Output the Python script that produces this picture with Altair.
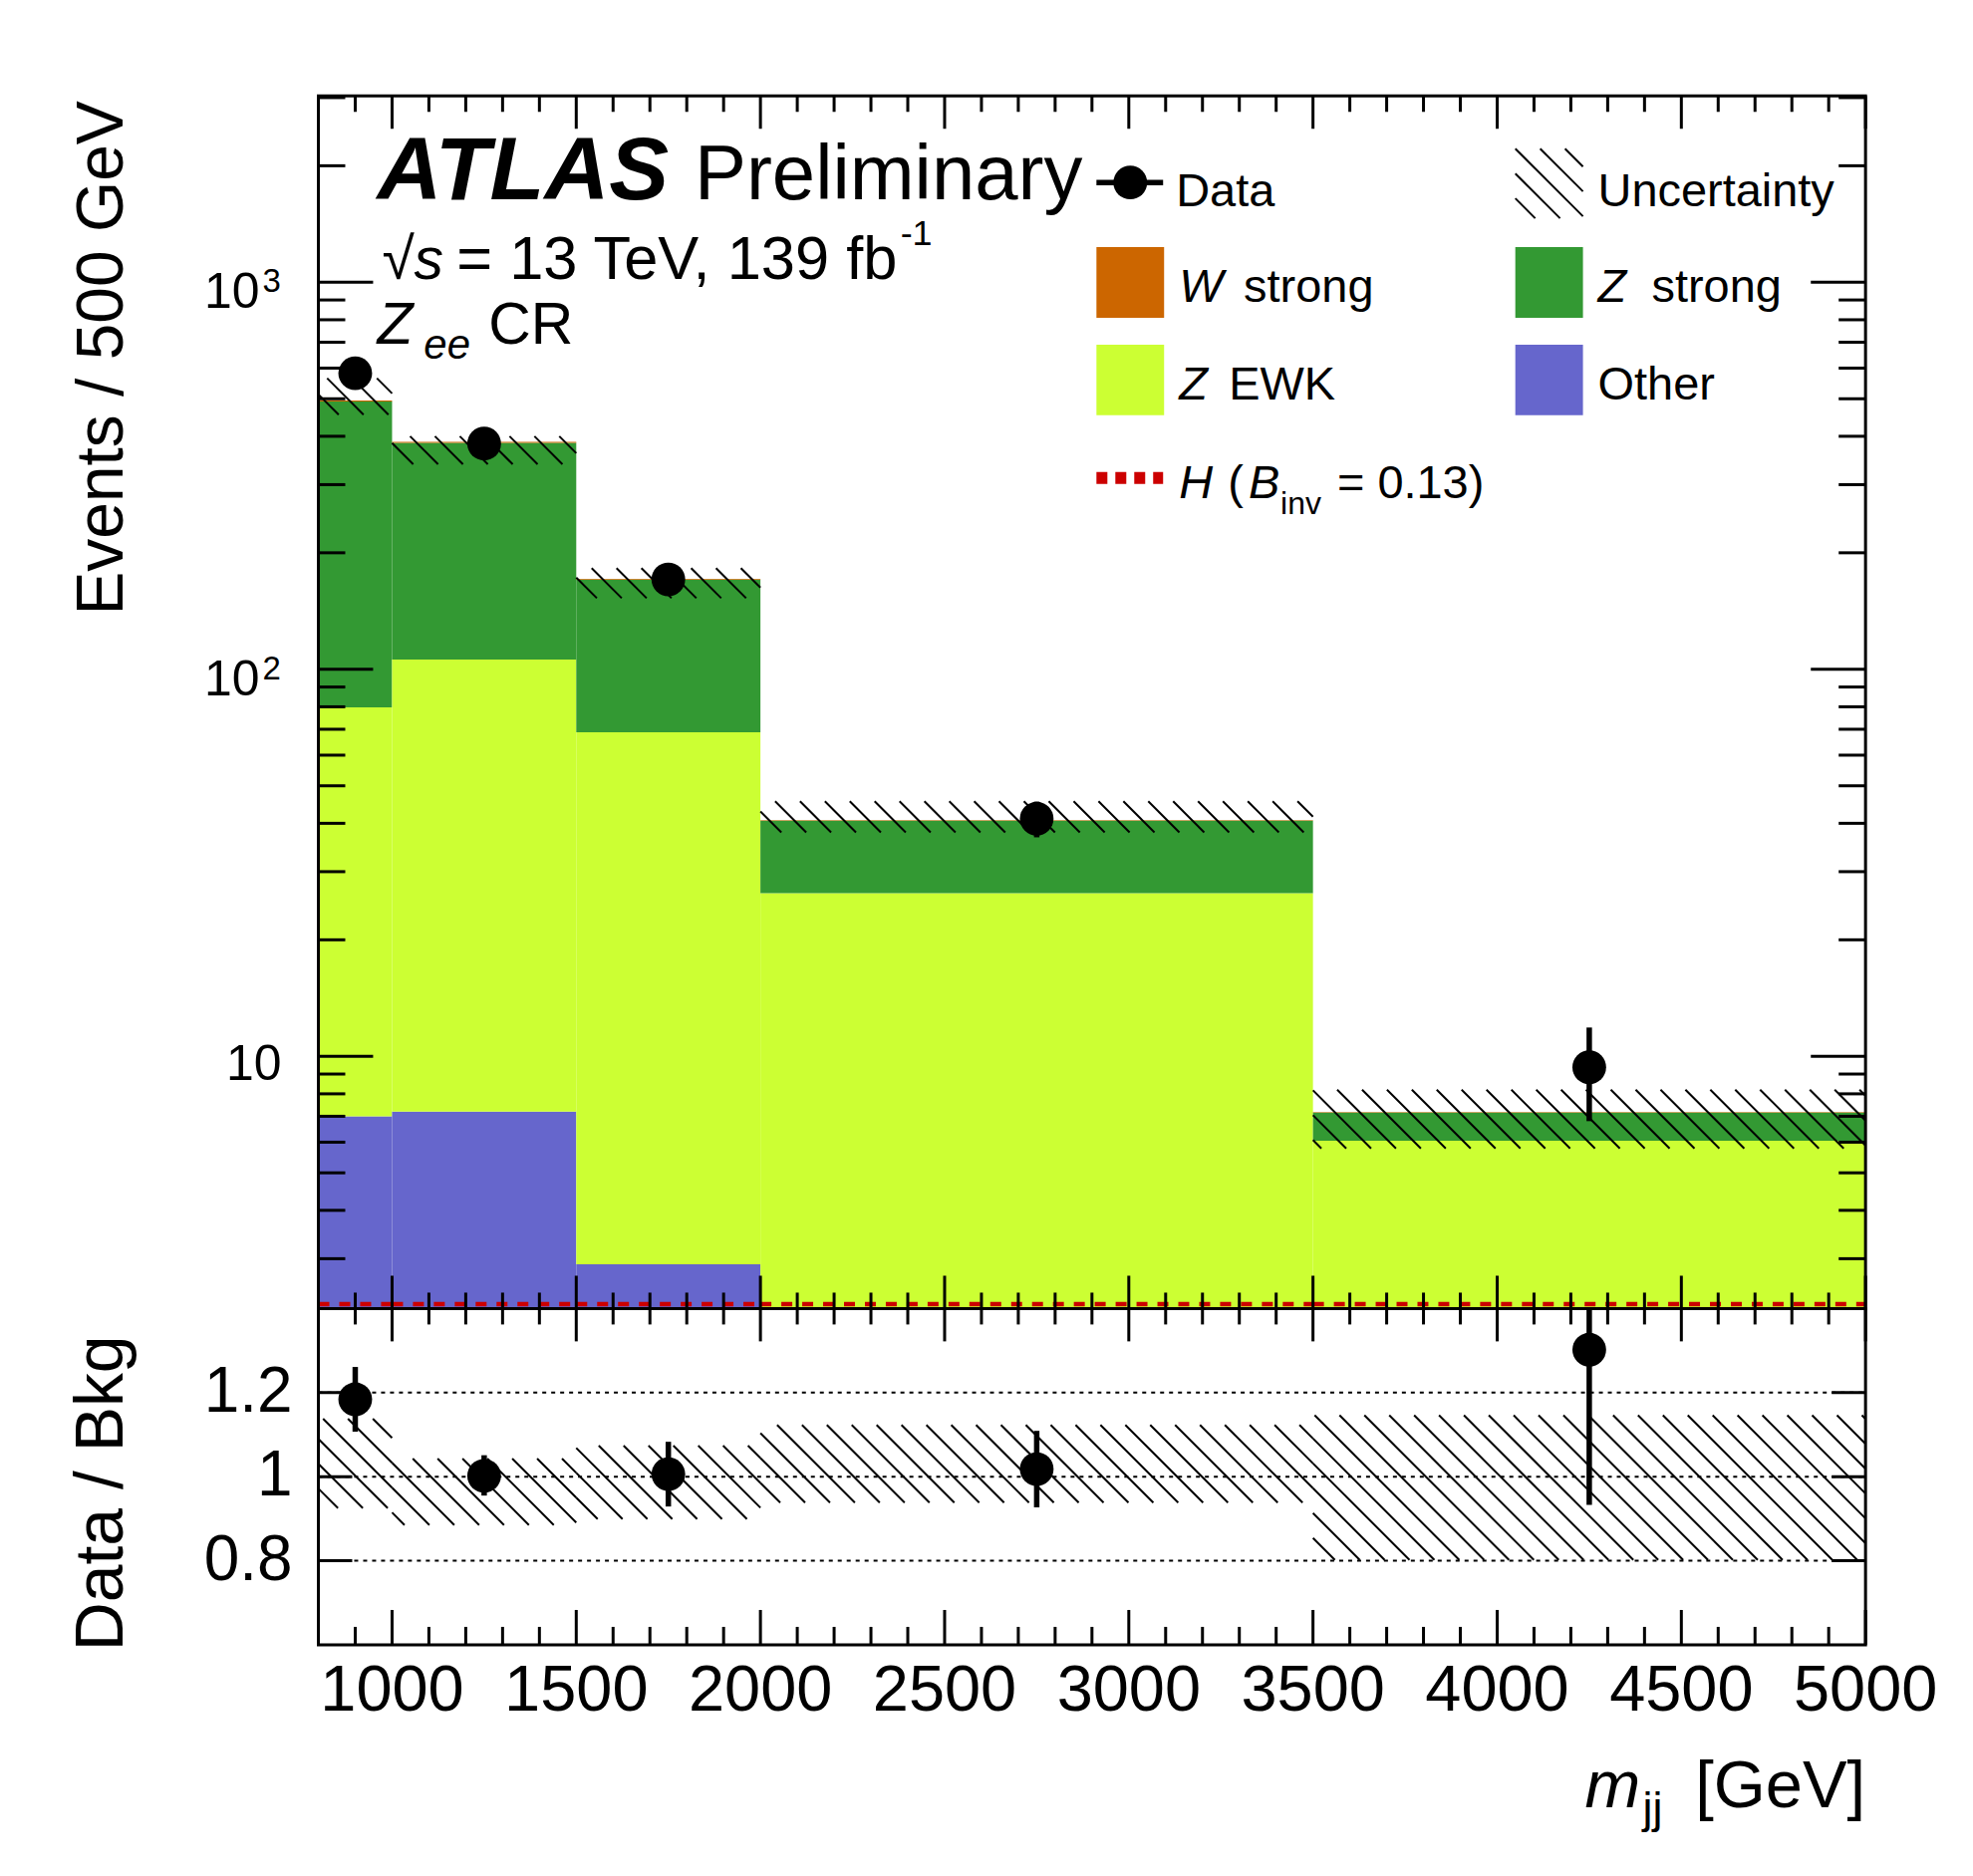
import math
import altair as alt
import pandas as pd

# ---------------- data ----------------
bin_lo = [800, 1000, 1500, 2000, 3500]
bin_hi = [1000, 1500, 2000, 3500, 5000]
bin_center = [900, 1250, 1750, 2750, 4250]

other = [7.0, 7.2, 2.9, 1.0, 0.3]
z_ewk = [72.7, 98.7, 65.9, 25.4, 5.75]
z_strong = [412.0, 279.0, 101.8, 14.2, 1.1]
w_strong = [3.0, 2.0, 0.8, 0.15, 0.03]
h_signal = [2.29, 2.29, 2.29, 2.29, 2.29]

data_val = [582.0, 383.0, 170.7, 41.1, 9.37]
data_up = [616.0, 404.0, 182.0, 45.5, 11.87]
data_down = [548.0, 362.0, 159.0, 36.8, 6.8]

unc_up = [565.0, 400.0, 182.6, 45.6, 8.2]
unc_down = [455.0, 338.6, 152.7, 37.9, 5.78]

ratio_val = [1.184, 1.002, 1.006, 1.018, 1.302]
ratio_up = [1.261, 1.051, 1.083, 1.109, 1.65]
ratio_down = [1.107, 0.955, 0.929, 0.927, 0.933]
ratio_unc_up = [1.138, 1.043, 1.074, 1.123, 1.146]
ratio_unc_down = [0.925, 0.885, 0.899, 0.938, 0.802]

process_names = ["Other", "Z EWK", "Z strong", "W strong"]
process_colors = ["#6666cc", "#ccff33", "#339933", "#cc6600"]

x_major = [1000, 1500, 2000, 2500, 3000, 3500, 4000, 4500, 5000]
x_minor = [900, 1100, 1200, 1300, 1400, 1600, 1700, 1800, 1900, 2100, 2200, 2300, 2400,
           2600, 2700, 2800, 2900, 3100, 3200, 3300, 3400, 3600, 3700, 3800, 3900,
           4100, 4200, 4300, 4400, 4600, 4700, 4800, 4900]
y_major = [10, 100, 1000]
y_pow_vals = [100, 1000]
y_pow_exps = ["2", "3"]
y_minor = [3, 4, 5, 6, 7, 8, 9, 20, 30, 40, 50, 60, 70, 80, 90,
           200, 300, 400, 500, 600, 700, 800, 900, 2000, 3000]
r_major = [0.8, 1.0, 1.2]
r_major_labels = ["0.8", "1", "1.2"]

# ---------------- layout ----------------
FONT = "Liberation Sans"
W, HM, HR = 1555, 1219, 338
HT = HM + HR
XMIN, XMAX = 800, 5000
YMIN, YMAX = 2.23, 3030
RMIN, RMAX = 0.6, 1.4
LY = math.log10(YMAX) - math.log10(YMIN)


def px_x(v):
    return (v - XMIN) / (XMAX - XMIN) * W


def dat_x(p):
    return XMIN + p / W * (XMAX - XMIN)


def px_m(v):
    return HM * (math.log10(YMAX) - math.log10(v)) / LY


def dat_m(p):
    return 10 ** (math.log10(YMAX) - p / HM * LY)


def px_r(v):
    return HM + HR * (RMAX - v) / (RMAX - RMIN)


def dat_r(p):
    return RMAX - (p - HM) / HR * (RMAX - RMIN)


def hatch(x0, x1, y0, y1, spacing=25.0):
    segs = []
    k0 = math.floor((x0 - y1) / spacing)
    k1 = math.ceil((x1 - y0) / spacing)
    for k in range(k0, k1 + 1):
        c = k * spacing
        ya = max(y0, x0 - c)
        yb = min(y1, x1 - c)
        if yb - ya > 1.0:
            segs.append((c + ya, ya, c + yb, yb))
    return segs


xs = alt.Scale(domain=[XMIN, XMAX], nice=False, zero=False)
ysm = alt.Scale(type="log", domain=[YMIN, YMAX], range=[HM, 0], nice=False, clamp=True)
ysr = alt.Scale(domain=[RMIN, RMAX], range=[HT, HM], nice=False, zero=False, clamp=True)

# ---------------- tables ----------------
rows = []
for i in range(5):
    cum = 0.0
    for name, vals in zip(process_names, [other, z_ewk, z_strong, w_strong]):
        lo = cum
        cum += vals[i]
        rows.append(dict(process=name, lo=bin_lo[i], hi=bin_hi[i],
                         y0=max(lo, YMIN), y1=max(cum, YMIN)))
stack_df = pd.DataFrame(rows)

bins_df = pd.DataFrame(dict(lo=bin_lo, hi=bin_hi, c=bin_center, h=h_signal,
                            d=data_val, du=data_up, dd=data_down,
                            r=ratio_val, ru=ratio_up, rd=ratio_down))

hm_rows, hr_rows = [], []
for i in range(5):
    for (xa, ya, xb, yb) in hatch(px_x(bin_lo[i]), px_x(bin_hi[i]), px_m(unc_up[i]), px_m(unc_down[i])):
        hm_rows.append(dict(xa=dat_x(xa), ya=dat_m(ya), xb=dat_x(xb), yb=dat_m(yb)))
    for (xa, ya, xb, yb) in hatch(px_x(bin_lo[i]), px_x(bin_hi[i]), px_r(ratio_unc_up[i]), px_r(ratio_unc_down[i])):
        hr_rows.append(dict(xa=dat_x(xa), ya=dat_r(ya), xb=dat_x(xb), yb=dat_r(yb)))
hm_df = pd.DataFrame(hm_rows)
hr_df = pd.DataFrame(hr_rows)

one = pd.DataFrame({"k": [0]})

# ---------------- main panel ----------------
X = lambda f: alt.X(f, scale=xs, axis=None)
YM = lambda f: alt.Y(f, scale=ysm, axis=None)
YR = lambda f: alt.Y(f, scale=ysr, axis=None)

stack = alt.Chart(stack_df).mark_rect().encode(
    x=X("lo:Q"), x2="hi:Q", y=YM("y1:Q"), y2="y0:Q",
    color=alt.Color("process:N", scale=alt.Scale(domain=process_names, range=process_colors), legend=None))

hline = alt.Chart(bins_df).mark_rule(color="#cc0000", strokeWidth=4.5, strokeDash=[11, 10]).encode(
    x=X("lo:Q"), x2="hi:Q", y=YM("h:Q"))

hatch_m = alt.Chart(hm_df).mark_rule(color="black", strokeWidth=2).encode(
    x=X("xa:Q"), x2="xb:Q", y=YM("ya:Q"), y2="yb:Q")

err_m = alt.Chart(bins_df).mark_rule(color="black", strokeWidth=5.5).encode(
    x=X("c:Q"), y=YM("dd:Q"), y2="du:Q")
pts_m = alt.Chart(bins_df).mark_circle(size=1150, color="black", opacity=1).encode(
    x=X("c:Q"), y=YM("d:Q"))

xmaj_df = pd.DataFrame({"v": x_major})
xmin_df = pd.DataFrame({"v": x_minor})
ymaj_df = pd.DataFrame({"v": y_major})
ypow_df = pd.DataFrame({"v": y_pow_vals, "e": y_pow_exps})
yten_df = pd.DataFrame({"v": [10]})
ymin_df = pd.DataFrame({"v": y_minor})
rmaj_df = pd.DataFrame({"v": r_major, "label": r_major_labels})


def xticks(df, y_a, y_b):
    return alt.Chart(df).mark_rule(color="black", strokeWidth=3).encode(
        x=X("v:Q"), y=alt.value(y_a), y2=alt.value(y_b))


def yticks(df, yenc, length):
    left = alt.Chart(df).mark_rule(color="black", strokeWidth=3).encode(
        y=yenc, x=alt.value(0), x2=alt.value(length))
    right = alt.Chart(df).mark_rule(color="black", strokeWidth=3).encode(
        y=yenc, x=alt.value(W), x2=alt.value(W - length))
    return [left, right]


main_ticks = [
    xticks(xmaj_df, HM, HM - 33), xticks(xmin_df, HM, HM - 16),
    xticks(xmaj_df, 0, 33), xticks(xmin_df, 0, 16),
] + yticks(ymaj_df, YM("v:Q"), 55) + yticks(ymin_df, YM("v:Q"), 27)

frame_m = alt.Chart(one).mark_rect(filled=False, stroke="black", strokeWidth=3).encode(
    x=alt.value(0), x2=alt.value(W), y=alt.value(0), y2=alt.value(HM))

ylab_ten = alt.Chart(yten_df).mark_text(font=FONT, fontSize=50, align="right", baseline="alphabetic", dy=24).encode(
    y=YM("v:Q"), x=alt.value(-37), text=alt.value("10"))
ylab_base = alt.Chart(ypow_df).mark_text(font=FONT, fontSize=50, align="right", baseline="alphabetic", dy=26).encode(
    y=YM("v:Q"), x=alt.value(-59), text=alt.value("10"))
ylab_exp = alt.Chart(ypow_df).mark_text(font=FONT, fontSize=33, align="left", baseline="alphabetic", dy=10).encode(
    y=YM("v:Q"), x=alt.value(-56), text="e:N")

main = alt.layer(stack, hline, hatch_m, err_m, pts_m, *main_ticks, frame_m,
                 ylab_ten, ylab_base, ylab_exp)

# ---------------- ratio panel ----------------
grid_r = alt.Chart(rmaj_df).mark_rule(color="black", strokeWidth=2, strokeDash=[4, 5]).encode(
    y=YR("v:Q"), x=alt.value(0), x2=alt.value(W))
hatch_r = alt.Chart(hr_df).mark_rule(color="black", strokeWidth=2).encode(
    x=X("xa:Q"), x2="xb:Q", y=YR("ya:Q"), y2="yb:Q")
err_r = alt.Chart(bins_df).mark_rule(color="black", strokeWidth=5.5).encode(
    x=X("c:Q"), y=YR("rd:Q"), y2="ru:Q")
pts_r = alt.Chart(bins_df).mark_circle(size=1150, color="black", opacity=1).encode(
    x=X("c:Q"), y=YR("r:Q"))
ratio_ticks = [
    xticks(xmaj_df, HT, HT - 35), xticks(xmin_df, HT, HT - 18),
    xticks(xmaj_df, HM, HM + 33), xticks(xmin_df, HM, HM + 16),
] + yticks(rmaj_df, YR("v:Q"), 34)
frame_r = alt.Chart(one).mark_rect(filled=False, stroke="black", strokeWidth=3).encode(
    x=alt.value(0), x2=alt.value(W), y=alt.value(HM), y2=alt.value(HT))
ylab_r = alt.Chart(rmaj_df).mark_text(font=FONT, fontSize=64, align="right", baseline="middle").encode(
    y=YR("v:Q"), x=alt.value(-26), text="label:N")
xlab = alt.Chart(xmaj_df).mark_text(font=FONT, fontSize=65, align="center", baseline="alphabetic").encode(
    x=X("v:Q"), y=alt.value(1623), text=alt.Text("v:Q", format="d"))

ratio = alt.layer(grid_r, hatch_r, err_r, pts_r, *ratio_ticks, frame_r, ylab_r, xlab)


# ---------------- text & legend ----------------
def txt(text, x, y, size, style="normal", weight="normal", align="left", angle=0):
    return alt.Chart(one).mark_text(
        text=text, font=FONT, fontSize=size, fontStyle=style, fontWeight=weight,
        align=align, baseline="alphabetic", angle=angle, color="black").encode(
        x=alt.value(x), y=alt.value(y))


def box(x0, x1, y0, y1, color):
    return alt.Chart(one).mark_rect(color=color).encode(
        x=alt.value(x0), x2=alt.value(x1), y=alt.value(y0), y2=alt.value(y1))


deco = [
    txt("ATLAS", 59, 104, 90, style="italic", weight="bold"),
    txt("Preliminary", 378, 104, 78),
    txt("\u221a", 64, 184, 59),
    txt("s", 96, 184, 59, style="italic"),
    txt("= 13 TeV, 139 fb", 139, 184, 61.5),
    txt("-1", 585, 150, 36),
    txt("Z", 59, 249, 59, style="italic"),
    txt("ee", 106, 264, 42, style="italic"),
    txt("CR", 171, 249, 59),
    # axis titles
    txt("Events / 500 GeV", -197, 5, 66, align="right", angle=270),
    txt("Data / Bkg", -197, 1246, 68, align="right", angle=270),
    txt("[GeV]", W, 1720, 67, align="right"),
    txt("m", 1273, 1720, 67, style="italic"),
    txt("jj", 1331, 1736, 45),
    # legend
    alt.Chart(one).mark_rule(color="black", strokeWidth=5.5).encode(
        x=alt.value(782), x2=alt.value(849), y=alt.value(87)),
    alt.Chart(one).mark_circle(size=1150, color="black", opacity=1).encode(
        x=alt.value(816), y=alt.value(87)),
    txt("Data", 862, 111, 47),
    txt("Uncertainty", 1286, 111, 47),
    box(782, 850, 152, 223, process_colors[3]),
    txt("W", 865, 207, 47, style="italic"),
    txt("strong", 930, 207, 47),
    box(1203, 1271, 152, 223, process_colors[2]),
    txt("Z", 1286, 207, 47, style="italic"),
    txt("strong", 1340, 207, 47),
    box(782, 850, 250, 321, process_colors[1]),
    txt("Z", 865, 305, 47, style="italic"),
    txt("EWK", 915, 305, 47),
    box(1203, 1271, 250, 321, process_colors[0]),
    txt("Other", 1286, 305, 47),
    alt.Chart(one).mark_rule(color="#cc0000", strokeWidth=12, strokeDash=[11, 8]).encode(
        x=alt.value(782), x2=alt.value(849), y=alt.value(384)),
    txt("H", 865, 404, 47, style="italic"),
    txt("(", 914, 404, 47),
    txt("B", 935, 404, 47, style="italic"),
    txt("inv", 967, 420, 32),
    txt("= 0.13)", 1024, 404, 47),
]

leg_h = pd.DataFrame([dict(xa=a, ya=b, xb=c, yb=d) for (a, b, c, d) in hatch(1203, 1271, 53, 123)])
deco.append(alt.Chart(leg_h).mark_rule(color="black", strokeWidth=2).encode(
    x=alt.X("xa:Q", scale=None), x2="xb:Q", y=alt.Y("ya:Q", scale=None), y2="yb:Q"))

chart = alt.layer(main, ratio, *deco).resolve_scale(y="independent").properties(
    width=W, height=HT,
    autosize=alt.AutoSizeParams(type="none"),
    padding={"left": 312, "top": 87, "right": 100, "bottom": 220},
).configure_view(strokeWidth=0)

chart.save("out.html", embed_options={"renderer": "svg", "actions": False})
